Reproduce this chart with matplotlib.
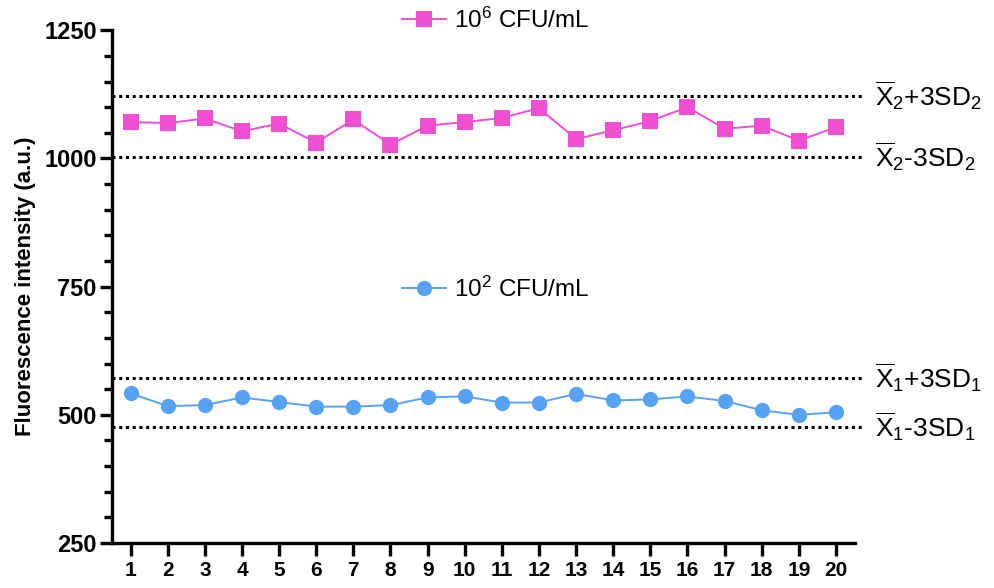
import matplotlib
matplotlib.use("Agg")
import matplotlib.pyplot as plt
from matplotlib.ticker import MultipleLocator

plt.rcParams['font.family'] = ['Liberation Sans', 'DejaVu Sans']
plt.rcParams['mathtext.fontset'] = 'custom'
plt.rcParams['mathtext.rm'] = 'Liberation Sans'
plt.rcParams['mathtext.it'] = 'Liberation Sans:italic'

# readings per sample (1..20)
samples = list(range(1, 21))
high_conc = [1071, 1069, 1078, 1053, 1068, 1031, 1076, 1027, 1064, 1071,
             1079, 1098, 1038, 1055, 1073, 1100, 1058, 1064, 1035, 1061]
low_conc = [542, 517, 519, 534, 525, 516, 516, 519, 534, 536,
            524, 524, 541, 528, 530, 536, 527, 509, 500, 505]

# control limits (mean +/- 3SD)
high_limits = [1122, 1003]
low_limits = [572, 477]
high_limit_labels = [r'$\overline{\mathrm{X}}_2$+3SD$_2$', r'$\overline{\mathrm{X}}_2$-3SD$_2$']
low_limit_labels = [r'$\overline{\mathrm{X}}_1$+3SD$_1$', r'$\overline{\mathrm{X}}_1$-3SD$_1$']

pink = '#F04FD2'
blue = '#58A2F5'

fig = plt.figure(figsize=(9.94, 5.88), dpi=100)
ax = fig.add_axes([0.1127, 0.0765, 0.747, 0.872])

h_pink, = ax.plot(samples, high_conc, color=pink, lw=1.4, marker='s', ms=11,
                  markeredgewidth=0, clip_on=False, zorder=3)
h_blue, = ax.plot(samples, low_conc, color=blue, lw=1.4, marker='o', ms=11,
                  markeredgewidth=0, clip_on=False, zorder=3)

for val, lab in zip(high_limits + low_limits, high_limit_labels + low_limit_labels):
    ax.plot([0.5, 20.7], [val, val], color='black', lw=2.2, ls=(0, (1, 1.2)),
            clip_on=False, zorder=2)
    ax.text(21.05, val, lab, fontsize=19, va='center', ha='left')

ax.set_xlim(0.5, 20.5)
ax.set_ylim(250, 1250)
ax.set_xticks(samples)
ax.yaxis.set_major_locator(MultipleLocator(250))
ax.yaxis.set_minor_locator(MultipleLocator(50))

for side in ['top', 'right']:
    ax.spines[side].set_visible(False)
for side in ['left', 'bottom']:
    ax.spines[side].set_linewidth(2.4)

ax.tick_params(axis='y', which='major', length=9, width=2.4, labelsize=17, pad=2)
ax.tick_params(axis='y', which='minor', length=6, width=2.4)
ax.tick_params(axis='x', which='major', length=9, width=2.4, labelsize=15, pad=4)
for t in ax.get_xticklabels() + ax.get_yticklabels():
    t.set_fontweight('bold')

ax.set_ylabel('Fluorescence intensity (a.u.)', fontsize=16, fontweight='bold', labelpad=6)

leg1 = ax.legend([h_pink], [r'10$^6$ CFU/mL'], loc='center left', frameon=False,
                 bbox_to_anchor=(0.392, 1 - 20 / 588), bbox_transform=fig.transFigure,
                 fontsize=17.5, borderpad=0, handlelength=1.8, handletextpad=0.35)
ax.add_artist(leg1)
ax.legend([h_blue], [r'10$^2$ CFU/mL'], loc='center left', frameon=False,
          bbox_to_anchor=(0.392, 1 - 289 / 588), bbox_transform=fig.transFigure,
          fontsize=17.5, borderpad=0, handlelength=1.8, handletextpad=0.35)

fig.savefig('out.png', dpi=100)
